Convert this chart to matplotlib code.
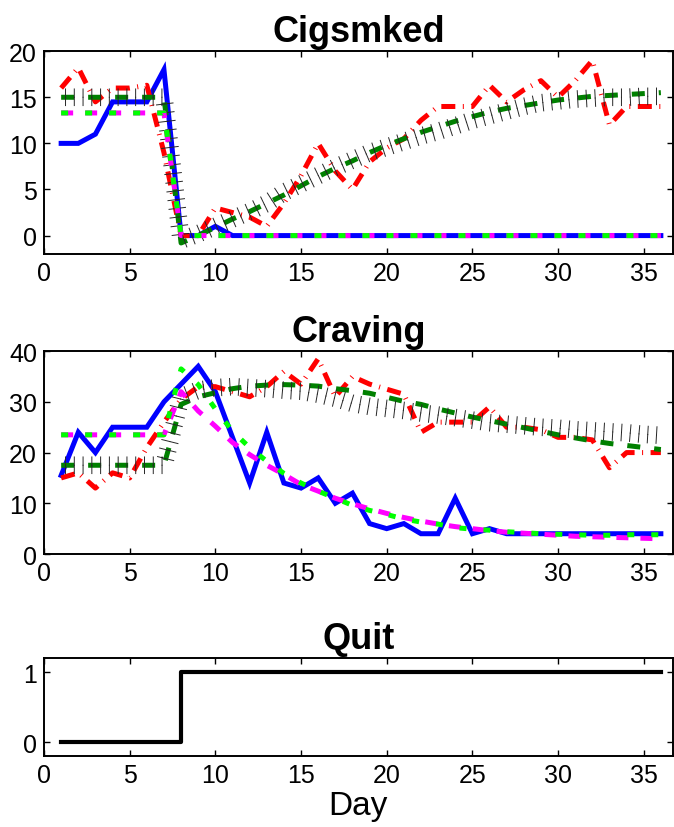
import matplotlib
matplotlib.use("Agg")
import matplotlib.pyplot as plt
import matplotlib.patheffects as pe
import numpy as np

plt.rcParams['font.family'] = ['Liberation Sans Narrow', 'Liberation Sans', 'DejaVu Sans']

days = np.arange(1, 37)

# cigarettes smoked per day
cig_a = [10, 10, 11, 14.5, 14.5, 14.5, 18, 0, 0, 1, 0, 0, 0, 0, 0, 0, 0, 0,
         0, 0, 0, 0, 0, 0, 0, 0, 0, 0, 0, 0, 0, 0, 0, 0, 0, 0]
cig_b = [16, 18.2, 14.5, 16, 16, 16.3, 9, 0, 0, 3, 2.5, 2, 1, 3.5, 6.5, 10, 7, 5,
         8, 9.5, 10.5, 12.5, 14, 14, 14, 16.3, 14.5, 15.8, 16.8, 15, 16.8, 19, 12, 14, 14, 14]
cig_fit_b = [15, 15, 15, 15, 15, 15, 15, -0.8, 0.0, 0.9, 1.8, 2.6, 3.5, 4.4, 5.4, 6.4, 7.3, 8.1,
             9.0, 9.8, 10.5, 11.2, 11.8, 12.4, 12.9, 13.4, 13.8, 14.1, 14.4, 14.7, 14.9, 15.1, 15.2, 15.3, 15.4, 15.5]
cig_band_b = [15, 15, 15, 15, 15, 15, 15, -0.5, 0.2, 1.0, 1.8, 2.6, 3.5, 4.7, 5.6, 6.5, 7.4, 8.2,
              9.0, 9.6, 10.2, 10.8, 11.3, 11.9, 12.5, 13.0, 13.5, 14.0, 14.4, 14.6, 14.8, 14.9, 15.0, 15.0, 15.1, 15.1]
cig_fit_a = [13.3, 13.3, 13.3, 13.3, 13.3, 13.3, 13.3, 0, 0, 0, 0, 0, 0, 0, 0, 0, 0, 0,
             0, 0, 0, 0, 0, 0, 0, 0, 0, 0, 0, 0, 0, 0, 0, 0, 0, 0]
cig_fit_a2 = [13.3, 13.3, 13.3, 13.3, 13.3, 13.3, 13.3, 0, 0, 0, 0, 0, 0, 0, 0, 0, 0, 0,
              0, 0, 0, 0, 0, 0, 0, 0, 0, 0, 0, 0, 0, 0, 0, 0, 0, 0]

# craving score
crave_a = [15.5, 24, 20, 25, 25, 25, 30, 33.5, 37, 32, 23, 14, 24, 14, 13, 15, 10, 12,
           6, 5, 6, 4, 4, 11, 4, 5, 4, 4, 4, 4, 4, 4, 4, 4, 4, 4]
crave_b = [15, 16, 13, 16, 15, 21, 26, 30.5, 33, 33, 32, 31, 33, 36, 33.5, 38.5, 31, 35,
           33.5, 32.5, 31.5, 24, 26, 26, 26, 29, 25, 25, 24.5, 23, 23, 22.5, 17, 20, 20, 20]
crave_fit_b = [17.5, 17.5, 17.5, 17.5, 17.5, 17.5, 17.5, 29.5, 31.0, 31.8, 32.6, 33.1, 33.3, 33.4, 33.3, 33.1, 32.6, 32.2,
               31.7, 30.9, 30.1, 29.5, 28.6, 27.8, 27.0, 26.3, 25.6, 24.9, 24.2, 23.5, 22.9, 22.3, 21.8, 21.4, 21.0, 20.6]
crave_band_b = [17.5, 17.5, 17.5, 17.5, 17.5, 17.5, 17.5, 31.0, 32.3, 32.8, 33.0, 32.8, 32.6, 32.3, 32.1, 31.5, 30.7, 29.7,
                29.1, 28.7, 28.3, 27.8, 27.4, 26.9, 26.4, 25.9, 25.6, 25.3, 25.0, 24.8, 24.5, 24.3, 24.1, 23.9, 23.6, 23.4]
crave_fit_a = [23.5, 23.5, 23.5, 23.5, 23.5, 23.5, 23.5, 32, 28.2, 25.2, 22, 19.6, 17.5, 15.7, 13.7, 12.4, 11.0, 9.9,
               8.9, 8.0, 7.2, 6.5, 5.9, 5.4, 5.0, 4.6, 4.3, 4.1, 3.9, 3.7, 3.5, 3.4, 3.3, 3.2, 3.1, 3.0]
crave_fit_a2 = [23.5, 23.5, 23.5, 23.5, 23.5, 23.5, 23.5, 36.5, 33.4, 28.6, 24.2, 21.0, 18.3, 15.9, 14.0, 12.4, 11.0, 9.6,
                8.6, 7.8, 6.9, 6.3, 5.9, 5.2, 4.9, 4.7, 4.4, 4.2, 4.0, 3.9, 3.8, 3.7, 3.7, 3.8, 3.8, 3.8]

# quit indicator
quit = [0, 0, 0, 0, 0, 0, 0, 1, 1, 1, 1, 1, 1, 1, 1, 1, 1, 1,
        1, 1, 1, 1, 1, 1, 1, 1, 1, 1, 1, 1, 1, 1, 1, 1, 1, 1]

LW = 3.6
ticks_fx = [pe.TickedStroke(angle=90, spacing=6.3, length=0.95, linewidth=0.7),
            pe.TickedStroke(angle=-90, spacing=6.3, length=0.95, linewidth=0.7)]


def style(ax, title, ylim, yticks):
    ax.set_xlim(0, 36.7)
    ax.set_ylim(*ylim)
    ax.set_xticks(range(0, 36, 5))
    ax.set_yticks(yticks)
    ax.tick_params(direction='in', length=4, width=1, top=True, right=True,
                   labelsize=18, pad=5)
    for s in ax.spines.values():
        s.set_linewidth(1.4)
    ax.set_title(title, fontsize=26, fontweight='bold', pad=7)


def panel(ax, a, b, fit_b, band_b, fit_a, fit_a2):
    ax.plot(days, a, color='blue', lw=LW, solid_joinstyle='miter')
    ax.plot(days, b, color='red', lw=LW, dashes=(2.8, 1.5, 0.2, 1.5),
            dash_capstyle='butt')
    ax.plot(days, fit_b, color='green', lw=LW, dashes=(2.6, 2.8),
            dash_capstyle='butt')
    ax.plot(days, band_b, color='0.15', lw=0.7, path_effects=ticks_fx)
    ax.plot(days, fit_a, color='magenta', lw=LW, dashes=(2.4, 2.4),
            dash_capstyle='butt')
    ax.plot(days, fit_a2, color='lime', lw=LW, dashes=(1.4, 3.4),
            dash_capstyle='butt')


fig = plt.figure(figsize=(6.74, 8.28), dpi=100)
ax1 = fig.add_axes([0.0653, 0.692, 0.933, 0.245])
ax2 = fig.add_axes([0.0653, 0.3297, 0.933, 0.245])
ax3 = fig.add_axes([0.0653, 0.0857, 0.933, 0.1184])

panel(ax1, cig_a, cig_b, cig_fit_b, cig_band_b, cig_fit_a, cig_fit_a2)
style(ax1, 'Cigsmked', (-2, 20), [0, 5, 10, 15, 20])

panel(ax2, crave_a, crave_b, crave_fit_b, crave_band_b, crave_fit_a, crave_fit_a2)
style(ax2, 'Craving', (0, 40), [0, 10, 20, 30, 40])

ax3.step(days, quit, where='post', color='k', lw=3)
style(ax3, 'Quit', (-0.2, 1.2), [0, 1])
ax3.set_xlabel('Day', fontsize=24, labelpad=2)

fig.savefig('out.png', dpi=100)
